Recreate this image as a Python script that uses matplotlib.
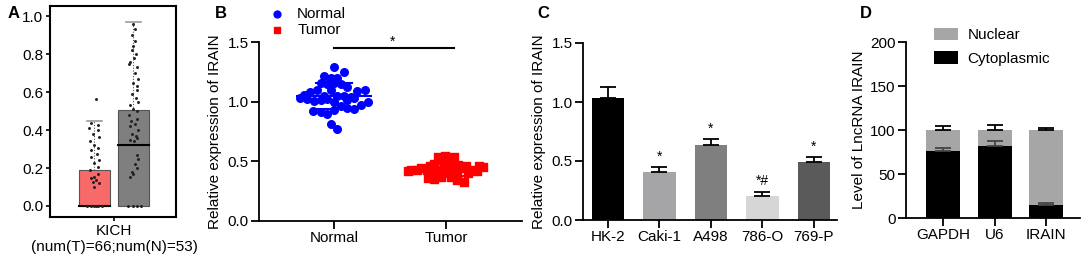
import matplotlib
matplotlib.use("Agg")
import matplotlib.pyplot as plt
import numpy as np

plt.rcParams['font.family'] = ['Liberation Sans', 'DejaVu Sans']

# ---- panel A: KICH boxplot (T red, N gray)
kich_t_box = [0.0, 0.0, 0.19, 0.445]      # min, median, q3, whisker top
kich_n_box = [0.0, 0.32, 0.505, 0.97]
kich_t_pts = [0.565, 0.435, 0.425, 0.41, 0.40, 0.38, 0.365, 0.34, 0.32, 0.305, 0.295,
              0.275, 0.26, 0.24, 0.225, 0.205, 0.19, 0.17, 0.155, 0.145, 0.135, 0.125,
              0.12, 0.10, 0.0, 0.0, 0.0, 0.0, 0.0, 0.0]
kich_t_dx = [0.05, -0.1, 0.08, -0.15, 0.1, -0.05, 0.12, -0.12, 0.0, 0.1, -0.08,
             0.06, -0.1, 0.12, -0.02, 0.08, -0.12, 0.1, 0.0, -0.1, 0.05, -0.05,
             0.12, -0.02, -0.2, -0.1, 0.0, 0.1, 0.2, 0.05]
kich_n_pts = [0.96, 0.93, 0.90, 0.87, 0.84, 0.82, 0.80, 0.78, 0.76, 0.745, 0.73, 0.70,
              0.67, 0.65, 0.63, 0.61, 0.59, 0.57, 0.55, 0.53, 0.51, 0.50, 0.48, 0.46,
              0.45, 0.43, 0.42, 0.40, 0.38, 0.37, 0.36, 0.35, 0.34, 0.27, 0.25, 0.22,
              0.20, 0.18, 0.17, 0.15, 0.0, 0.0, 0.0, 0.0]
kich_n_dx = [0.0, 0.05, -0.03, 0.04, 0.0, -0.05, 0.06, 0.02, -0.08, -0.12, 0.1, 0.05,
             0.12, -0.02, 0.08, 0.1, -0.05, 0.06, 0.12, -0.1, 0.0, 0.08, -0.12, 0.1,
             -0.06, 0.04, -0.1, 0.12, -0.04, 0.06, 0.1, -0.08, 0.02, 0.1, 0.12, 0.05,
             0.08, -0.05, 0.0, -0.08, -0.15, 0.0, 0.1, 0.2]

# ---- panel B: scatter Normal vs Tumor
normal_y = [1.29, 1.245, 1.215, 1.20, 1.20, 1.155, 1.15, 1.155, 1.15, 1.10, 1.10, 1.12,
            1.09, 1.095, 1.08, 1.06, 1.05, 1.05, 1.05, 1.04, 1.03, 1.02, 1.025, 1.03,
            1.005, 1.01, 1.00, 1.01, 0.995, 0.97, 0.965, 0.95, 0.94, 0.925, 0.91, 0.895,
            0.93, 0.81, 0.77]
normal_dx = [0.0, 0.09, -0.09, -0.03, 0.03, -0.12, -0.06, 0.0, 0.06, -0.15, -0.03, 0.12,
             0.21, 0.275, -0.21, -0.27, -0.09, 0.03, 0.09, 0.15, -0.30, -0.245, -0.06, 0.18,
             -0.18, -0.12, 0.0, 0.12, 0.30, 0.24, 0.06, 0.12, 0.18, -0.19, -0.12, -0.06,
             0.0, -0.03, 0.03]
tumor_y = [0.54, 0.547, 0.54, 0.51, 0.50, 0.48, 0.48, 0.47, 0.46, 0.46, 0.46, 0.43,
           0.43, 0.44, 0.43, 0.43, 0.44, 0.43, 0.44, 0.43, 0.42, 0.40, 0.405, 0.40,
           0.395, 0.405, 0.36, 0.35, 0.365, 0.37, 0.34, 0.33, 0.43, 0.45, 0.42]
tumor_dx = [-0.07, -0.01, 0.07, -0.04, 0.04, -0.11, 0.0, 0.11, -0.14, 0.18, 0.30, -0.31,
            -0.26, -0.22, -0.17, -0.08, -0.02, 0.05, 0.14, 0.23, 0.275, -0.14, -0.05, 0.02,
            0.095, 0.20, -0.16, -0.11, -0.04, 0.05, 0.10, 0.16, 0.0, 0.33, -0.34]
b_groups = ['Normal', 'Tumor']

# ---- panel C: cell lines
cell_lines = ['HK-2', 'Caki-1', 'A498', '786-O', '769-P']
cell_means = [1.03, 0.41, 0.635, 0.20, 0.49]
cell_err = [0.10, 0.04, 0.05, 0.04, 0.045]
cell_marks = ['', '*', '*', '*#', '*']
cell_colors = ['#000000', '#a5a5a7', '#7f7f7f', '#d6d6d6', '#5a5a5a']

# ---- panel D: subcellular fraction
genes = ['GAPDH', 'U6', 'IRAIN']
cyto = [76, 82, 15]
cyto_err = [4, 6, 2]
nuclear = [24, 18, 85]
total_err = [4, 6, 2]

W, H = 1084, 260
fig = plt.figure(figsize=(W / 100, H / 100), dpi=100)


def box(l, r, t, b):
    return fig.add_axes([l / W, (H - b) / H, (r - l) / W, (b - t) / H])


def style(ax):
    for s in ['top', 'right']:
        ax.spines[s].set_visible(False)
    for s in ['left', 'bottom']:
        ax.spines[s].set_linewidth(1.3)
    ax.tick_params(width=1.3, length=6, labelsize=11, pad=1.5)


# A
axA = box(50, 176, 6, 217)
for pos, bx, pts, dx, fc in [(0, kich_t_box, kich_t_pts, kich_t_dx, '#f86a6a'),
                             (1, kich_n_box, kich_n_pts, kich_n_dx, '#7f7f7f')]:
    axA.bar(pos, bx[2] - bx[0], bottom=bx[0], width=0.8, color=fc, edgecolor='#555555', lw=0.8)
    axA.plot([pos - 0.4, pos + 0.4], [bx[1], bx[1]], color='black', lw=1.5)
    axA.plot([pos, pos], [bx[2], bx[3]], color='#555555', lw=0.8, ls=(0, (1, 1.5)))
    axA.plot([pos - 0.2, pos + 0.2], [bx[3], bx[3]], color='#999999', lw=1.2)
    axA.scatter(pos + np.array(dx), pts, s=1.3, color='#222222', zorder=3)
axA.set_xlim(-1.14, 2.09)
axA.set_ylim(-0.058, 1.053)
axA.set_yticks([0, 0.2, 0.4, 0.6, 0.8, 1.0])
axA.set_yticklabels(['0.0', '0.2', '0.4', '0.6', '0.8', '1.0'])
axA.set_xticks([0.5])
axA.set_xticklabels(['KICH\n(num(T)=66;num(N)=53)'], linespacing=1.15)
for s in axA.spines.values():
    s.set_linewidth(1.5)
axA.tick_params(width=1.2, length=3, labelsize=11, pad=2)
fig.text(8 / W, 1 - 14 / H, 'A', fontsize=12, fontweight='bold', va='center')

# B
axB = box(259, 522, 42, 221)
style(axB)
axB.scatter(np.array(normal_dx), normal_y, s=30, color='#0000ff', marker='o', label='Normal', zorder=3)
axB.scatter(1 + np.array(tumor_dx), tumor_y, s=26, color='#ff0000', marker='s', label='Tumor', zorder=3)
for i, ys, c in [(0, normal_y, '#0000ff'), (1, tumor_y, '#ff0000')]:
    m, sd = np.mean(ys), np.std(ys)
    axB.plot([i - 0.33, i + 0.33], [m, m], color=c, lw=1.5, zorder=2)
    axB.plot([i - 0.16, i + 0.16], [m + sd, m + sd], color=c, lw=1.5, zorder=2)
    axB.plot([i - 0.16, i + 0.16], [m - sd, m - sd], color=c, lw=1.5, zorder=2)
    axB.plot([i, i], [m - sd, m + sd], color=c, lw=1.5, zorder=2)
axB.plot([0, 1.07], [1.45, 1.45], color='black', lw=1.5, clip_on=False)
axB.text(0.52, 1.50, '*', ha='center', va='center', fontsize=10)
axB.set_xlim(-0.67, 1.68)
axB.set_ylim(0, 1.5)
axB.set_yticks([0, 0.5, 1.0, 1.5])
axB.set_xticks([0, 1])
axB.set_xticklabels(b_groups)
axB.set_ylabel('Relative expression of IRAIN', fontsize=11, labelpad=4)
axB.legend(loc='lower left', bbox_to_anchor=(0.0, 1.01), frameon=False, fontsize=11,
           handletextpad=0.3, labelspacing=0.15, borderpad=0, borderaxespad=0.2,
           markerscale=0.9)
fig.text(215 / W, 1 - 14 / H, 'B', fontsize=12, fontweight='bold', va='center')

# C
axC = box(583, 837, 43, 220)
style(axC)
xc = np.arange(len(cell_lines))
axC.bar(xc, cell_means, width=0.63, color=cell_colors)
axC.errorbar(xc, cell_means, yerr=[np.zeros(len(xc)), cell_err], fmt='none',
             ecolor='black', elinewidth=1.3, capsize=6, capthick=1.3)
for i in range(len(xc)):
    if cell_marks[i]:
        axC.text(xc[i], cell_means[i] + cell_err[i] + 0.03, cell_marks[i],
                 ha='center', va='bottom', fontsize=10)
axC.set_xlim(-0.485, 4.45)
axC.set_ylim(0, 1.5)
axC.set_yticks([0, 0.5, 1.0, 1.5])
axC.set_xticks(xc)
axC.set_xticklabels(cell_lines)
axC.set_ylabel('Relative expression of IRAIN', fontsize=11, labelpad=4)
fig.text(537 / W, 1 - 14 / H, 'C', fontsize=12, fontweight='bold', va='center')

# D
axD = box(906, 1080, 42, 218)
style(axD)
xd = np.arange(len(genes))
tops = np.array(cyto) + np.array(nuclear)
axD.bar(xd, nuclear, bottom=cyto, width=0.66, color='#a6a6a6', label='Nuclear')
axD.bar(xd, cyto, width=0.66, color='#000000', label='Cytoplasmic')
axD.errorbar(xd, tops, yerr=[np.zeros(len(xd)), total_err], fmt='none',
             ecolor='black', elinewidth=1.3, capsize=6, capthick=1.3)
axD.errorbar(xd, cyto, yerr=[np.zeros(len(xd)), cyto_err], fmt='none',
             ecolor='#444444', elinewidth=1.3, capsize=6, capthick=1.3)
axD.set_xlim(-0.72, 2.66)
axD.set_ylim(0, 200)
axD.set_yticks([0, 50, 100, 150, 200])
axD.set_xticks(xd)
axD.set_xticklabels(genes)
axD.set_ylabel('Level of LncRNA IRAIN', fontsize=11, labelpad=3)
axD.legend(loc='upper left', bbox_to_anchor=(0.08, 1.16), frameon=False, fontsize=11,
           handlelength=1.6, handleheight=0.9, handletextpad=0.6, labelspacing=0.6)
fig.text(860 / W, 1 - 14 / H, 'D', fontsize=12, fontweight='bold', va='center')

fig.savefig('out.png', dpi=100)
